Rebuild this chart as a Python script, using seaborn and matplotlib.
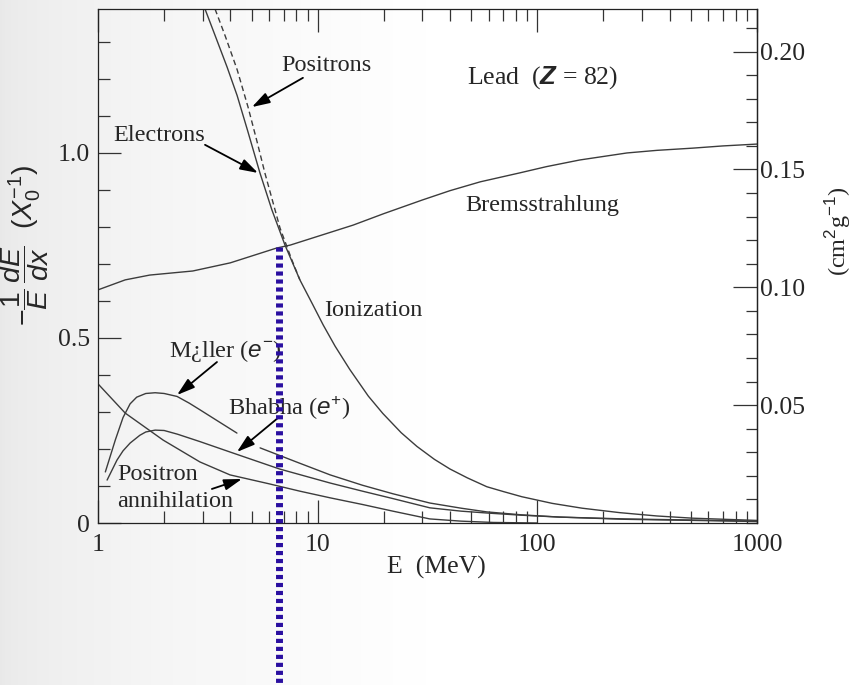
import numpy as np
import matplotlib
matplotlib.use("Agg")
import matplotlib.pyplot as plt
from matplotlib.ticker import FixedLocator, MultipleLocator, LogLocator, NullFormatter, FuncFormatter
import seaborn as sns

sns.set_theme(style="white")
plt.rcParams["font.family"] = ["Liberation Serif", "DejaVu Serif"]
plt.rcParams["mathtext.fontset"] = "custom"
plt.rcParams["mathtext.rm"] = "Liberation Sans"
plt.rcParams["mathtext.it"] = "Liberation Sans:italic"
plt.rcParams["mathtext.bf"] = "Liberation Sans:italic:bold"

# radiation length of lead (g/cm^2): converts X0^-1 to cm^2 g^-1
X0_LEAD = 6.37

# fractional energy loss per radiation length, -(1/E) dE/dx, versus E (MeV)
brems_E = [1.0, 1.33, 1.72, 2.7, 4.0, 6.5, 7.5, 14.5, 20, 30, 40, 55, 83, 110, 156, 256, 350, 510, 700, 1000]
brems_y = [0.630, 0.657, 0.670, 0.681, 0.703, 0.743, 0.751, 0.805, 0.836, 0.873, 0.898, 0.922, 0.946,
           0.963, 0.981, 1.000, 1.007, 1.013, 1.019, 1.024]

ion_e_E = [3.07, 3.45, 3.87, 4.3, 4.8, 5.46, 6.19, 7.10, 8.3, 9.5, 10.6, 12, 14, 17, 19.8, 24, 28.3,
           34, 40, 48, 58.9, 70, 85, 117, 160, 237, 350, 510, 1000]
ion_e_y = [1.389, 1.310, 1.232, 1.155, 1.060, 0.946, 0.846, 0.751, 0.657, 0.590, 0.535, 0.478, 0.415,
           0.343, 0.296, 0.244, 0.207, 0.172, 0.146, 0.122, 0.098, 0.085, 0.071, 0.053, 0.040, 0.028,
           0.019, 0.013, 0.007]

ion_p_E = [3.41, 3.8, 4.3, 4.82, 5.3, 5.75, 6.74, 7.64, 8.3]
ion_p_y = [1.389, 1.315, 1.225, 1.124, 1.030, 0.946, 0.797, 0.710, 0.657]

moller_E1 = [1.08, 1.2, 1.3, 1.4, 1.5, 1.65, 1.82, 2.0, 2.29, 2.6, 2.91, 3.5, 4.29]
moller_y1 = [0.138, 0.225, 0.285, 0.322, 0.340, 0.350, 0.352, 0.350, 0.342, 0.324, 0.306, 0.276, 0.243]
moller_E2 = [5.47, 8.0, 11.4, 16, 22, 32.4, 45, 58.9, 85, 126, 250, 510, 1000]
moller_y2 = [0.203, 0.165, 0.130, 0.102, 0.079, 0.054, 0.040, 0.030, 0.022, 0.016, 0.011, 0.008, 0.005]

bhabha_E = [1.10, 1.22, 1.3, 1.40, 1.55, 1.65, 1.82, 2.0, 2.3, 2.91, 4.12, 6.7, 11.4, 16, 22, 32.4,
            45, 58.9, 85, 126, 250, 510, 1000]
bhabha_y = [0.116, 0.170, 0.195, 0.216, 0.237, 0.246, 0.251, 0.250, 0.240, 0.220, 0.189, 0.146, 0.108,
            0.086, 0.066, 0.041, 0.032, 0.027, 0.021, 0.016, 0.010, 0.007, 0.004]

annih_E = [1.0, 1.33, 1.98, 2.91, 3.99, 6.0, 8.3, 11.4, 16, 22, 32.4, 45, 63, 100]
annih_y = [0.376, 0.297, 0.224, 0.165, 0.130, 0.106, 0.086, 0.068, 0.050, 0.032, 0.011, 0.005, 0.0015, 0.0]

# critical energy marker
crit_E = 6.67
crit_top = 0.746

x_ticks = [1, 10, 100, 1000]
x_tick_labels = ["1", "10", "100", "1000"]
left_ticks = [0, 0.5, 1.0]
left_tick_labels = ["0", "0.5", "1.0"]
right_ticks = [0.05, 0.10, 0.15, 0.20]
right_tick_labels = ["0.05", "0.10", "0.15", "0.20"]

W, H = 852, 685
fig = plt.figure(figsize=(W / 100, H / 100), dpi=100)

# soft grey backdrop that fades to white towards the right
cols = np.arange(W) / W
shade = 0.91 + 0.09 * np.clip(cols / 0.5, 0, 1) ** 0.55
backdrop = np.repeat(np.tile(shade, (H, 1))[:, :, None], 3, axis=2)
fig.figimage(backdrop, xo=0, yo=0, origin="upper", zorder=-10)

ax = fig.add_axes([98 / W, 1 - 523 / H, 659 / W, 514 / H])
ax.set_facecolor("none")

line_kw = dict(ax=ax, estimator=None, sort=False, color="#3c3c3c", linewidth=1.0)
sns.lineplot(x=brems_E, y=brems_y, **line_kw)
sns.lineplot(x=ion_e_E, y=ion_e_y, **line_kw)
sns.lineplot(x=ion_p_E, y=ion_p_y, linestyle=(0, (4, 2.5)), **line_kw)
sns.lineplot(x=moller_E1, y=moller_y1, **line_kw)
sns.lineplot(x=moller_E2, y=moller_y2, **line_kw)
sns.lineplot(x=bhabha_E, y=bhabha_y, **line_kw)
sns.lineplot(x=annih_E, y=annih_y, **line_kw)

ax.set_xscale("log")
ax.set_xlim(1, 1000)
ax.set_ylim(0, 1.389)

# axis ticks
ax.xaxis.set_major_locator(FixedLocator(x_ticks))
ax.xaxis.set_major_formatter(FuncFormatter(
    lambda v, p: x_tick_labels[x_ticks.index(round(v))] if round(v) in x_ticks else ""))
ax.xaxis.set_minor_locator(LogLocator(base=10, subs=np.arange(2, 10)))
ax.xaxis.set_minor_formatter(NullFormatter())
ax.yaxis.set_major_locator(FixedLocator(left_ticks))
ax.set_yticklabels(left_tick_labels)
ax.yaxis.set_minor_locator(MultipleLocator(0.1))

ax.tick_params(axis="x", which="both", direction="in", top=True, bottom=True,
               labelsize=18.5, pad=8, color="#333333", width=0.9)
ax.tick_params(axis="y", which="both", direction="in", left=True, right=False,
               labelsize=18.5, pad=6, color="#333333", width=0.9)
ax.tick_params(which="major", length=16.5)
ax.tick_params(which="minor", length=8.5)
for sp in ax.spines.values():
    sp.set_color("#222222")
    sp.set_linewidth(0.9)

sec = ax.secondary_yaxis("right", functions=(lambda v: v / X0_LEAD, lambda v: v * X0_LEAD))
sec.yaxis.set_major_locator(FixedLocator(right_ticks))
sec.set_yticklabels(right_tick_labels)
sec.yaxis.set_minor_locator(MultipleLocator(0.01))
sec.tick_params(axis="y", which="both", direction="in", labelsize=18.5, pad=2,
                color="#333333", width=0.9)
sec.tick_params(which="major", length=17)
sec.tick_params(which="minor", length=8)
sec.spines["right"].set_color("#222222")
sec.spines["right"].set_linewidth(0.9)

ax.set_xlabel("E  (MeV)", fontsize=18.5)
ax.xaxis.set_label_coords(0.513, -0.064)
ax.set_ylabel(r"$-\dfrac{1}{E}\,\dfrac{dE}{dx}\ \ (X_0^{-1})$", fontsize=20.5)
ax.yaxis.set_label_coords(-0.071, 0.54)
fig.text(838 / W, 1 - 231 / H, r"(cm$^{2}$g$^{-1}$)", rotation=90,
         ha="center", va="center", fontsize=17.5)

# curve labels
tfs = 17.5
ax.text(106, 1.203, r"Lead  ($\mathbf{Z}$ = 82)", ha="center", va="center", fontsize=18.5)
ax.text(46.8, 0.857, "Bremsstrahlung", ha="left", va="center", fontsize=tfs)
ax.text(18.0, 0.573, "Ionization", ha="center", va="center", fontsize=tfs)
ax.text(11.0, 1.235, "Positrons", ha="center", va="center", fontsize=tfs)
ax.text(1.90, 1.046, "Electrons", ha="center", va="center", fontsize=tfs)
ax.text(3.82, 0.465, r"M¿ller ($e^{-}$)", ha="center", va="center", fontsize=tfs)
ax.text(7.40, 0.311, r"Bhabha ($e^{+}$)", ha="center", va="center", fontsize=tfs)
ax.text(1.22, 0.130, "Positron", ha="left", va="center", fontsize=tfs)
ax.text(1.22, 0.059, "annihilation", ha="left", va="center", fontsize=tfs)

arrow = dict(arrowstyle="-|>,head_length=0.9,head_width=0.28", color="black",
             lw=1.3, shrinkA=0, shrinkB=0)
for head, tail in [((5.02, 1.124), (8.57, 1.203)),
                   ((5.35, 0.946), (3.07, 1.022)),
                   ((2.29, 0.346), (3.48, 0.435)),
                   ((4.29, 0.192), (6.60, 0.284)),
                   ((4.52, 0.119), (3.30, 0.092))]:
    ax.annotate("", xy=head, xytext=tail, arrowprops=arrow)

# critical energy: dotted marker dropping from the bremsstrahlung curve
sns.lineplot(x=[crit_E, crit_E], y=[crit_top, -0.5], ax=ax, estimator=None, sort=False,
             color="#2a0fa0", linewidth=5, linestyle=(0, (0.6, 0.55)),
             solid_capstyle="butt", dash_capstyle="butt", clip_on=False, zorder=10)
ax.set_ylim(0, 1.389)

fig.savefig("out.png", dpi=100)
